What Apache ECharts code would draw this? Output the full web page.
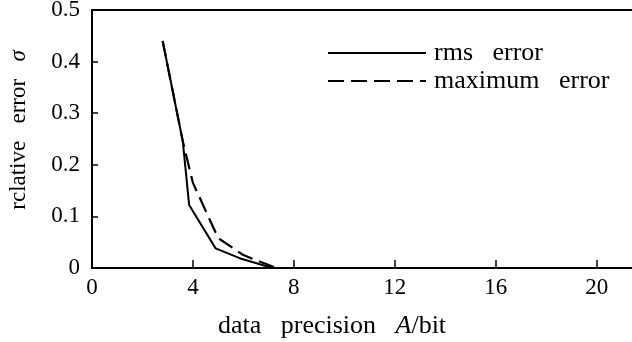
<!DOCTYPE html>
<html>
<head>
<meta charset="utf-8">
<script src="https://cdn.jsdelivr.net/npm/echarts@6/dist/echarts.min.js"></script>
<style>
  html, body { margin: 0; padding: 0; background: #fff; }
  #chart { width: 632px; height: 342px; }
</style>
</head>
<body>
<div id="chart"></div>
<script>
// values: [precision in bits, relative error]
const rmsError = [[2.8, 0.44], [3.6, 0.245], [3.85, 0.122], [4.9, 0.038], [5.85, 0.019], [7.15, 0]]
const maxError = [[2.8, 0.44], [3.6, 0.245], [4.0, 0.165], [5.0, 0.058], [6.0, 0.025], [7.3, 0]]
const seriesNames = ['rms   error', 'maximum   error']

const serif = 'Liberation Serif'

const chart = echarts.init(document.getElementById('chart'), null, { renderer: 'canvas' })

const option = {
	backgroundColor: '#fff',
	animation: false,
	color: ['#000', '#000'],
	grid: { left: 92, top: 10, right: 0, bottom: 74, outerBoundsMode: 'none', containLabel: false },
	legend: {
		orient: 'vertical',
		left: 327,
		top: 40,
		padding: 0,
		itemWidth: 98,
		itemHeight: 14,
		itemGap: 2,
		data: seriesNames,
		itemStyle: { opacity: 0 },
		textStyle: { fontFamily: serif, fontSize: 26, lineHeight: 26, color: '#000', padding: [0, 0, 0, 3] },
	},
	xAxis: [
		{
			type: 'value',
			min: 0,
			max: 21.4,
			interval: 4,
			name: '{t|data   precision   }{i|A}{t|/bit}',
			nameLocation: 'middle',
			nameGap: 45,
			nameTextStyle: {
				padding: [0, 60, 0, 0],
				rich: {
					t: { fontFamily: serif, fontSize: 26, color: '#000' },
					i: { fontFamily: serif, fontSize: 26, color: '#000', fontStyle: 'italic' },
				},
			},
			axisLine: { lineStyle: { color: '#000', width: 2 } },
			axisTick: { inside: true, length: 8, lineStyle: { color: '#000', width: 1.5 } },
			axisLabel: { fontFamily: serif, fontSize: 23, color: '#000', margin: 8, showMaxLabel: false },
			splitLine: { show: false },
		},
		{
			type: 'value',
			position: 'top',
			min: 0,
			max: 21.4,
			axisLine: { show: true, lineStyle: { color: '#000', width: 2 } },
			axisTick: { show: false },
			axisLabel: { show: false },
			splitLine: { show: false },
		},
	],
	yAxis: {
		type: 'value',
		min: 0,
		max: 0.5,
		interval: 0.1,
		name: '{t|rclative   error   }{i|σ}',
		nameLocation: 'middle',
		nameRotate: 90,
		nameGap: 62,
		nameTextStyle: {
			padding: [0, 0, 0, 18],
			rich: {
				t: { fontFamily: serif, fontSize: 23, color: '#000' },
				i: { fontFamily: serif, fontSize: 23, color: '#000', fontStyle: 'italic' },
			},
		},
		axisLine: { show: true, lineStyle: { color: '#000', width: 2 } },
		axisTick: { show: true, inside: true, length: 6, lineStyle: { color: '#000', width: 1.5 } },
		axisLabel: { fontFamily: serif, fontSize: 23, color: '#000', margin: 12 },
		splitLine: { show: false },
	},
	series: [
		{
			name: seriesNames[0],
			type: 'line',
			data: rmsError,
			symbol: 'none',
			lineStyle: { color: '#000', width: 2 },
		},
		{
			name: seriesNames[1],
			type: 'line',
			data: maxError,
			symbol: 'none',
			lineStyle: { color: '#000', width: 2.2, type: [16, 7] },
		},
	],
}

chart.setOption(option)
</script>
</body>
</html>
